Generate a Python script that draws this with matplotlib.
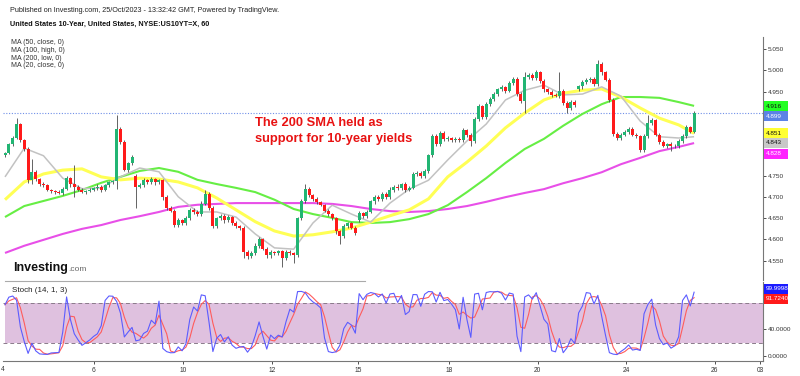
import numpy as np
import pandas as pd
import matplotlib
matplotlib.use('Agg')
import matplotlib.pyplot as plt
from matplotlib.patches import Rectangle
from matplotlib.lines import Line2D
from matplotlib.ticker import FixedLocator, FuncFormatter

plt.rcParams['font.family'] = ['Liberation Sans', 'DejaVu Sans']

# ---------------- data (2-hour candles) ----------------
close = [
    4.805, 4.825, 4.840, 4.872, 4.835, 4.815, 4.740, 4.760, 4.742, 4.732,
    4.728, 4.718, 4.715, 4.712, 4.710, 4.720, 4.745, 4.730, 4.725, 4.718,
    4.712, 4.715, 4.718, 4.722, 4.725, 4.718, 4.728, 4.735, 4.738, 4.862,
    4.830, 4.765, 4.780, 4.795, 4.725, 4.728, 4.740, 4.735, 4.742, 4.735,
    4.740, 4.700, 4.675, 4.668, 4.635, 4.645, 4.638, 4.650, 4.670, 4.665,
    4.660, 4.685, 4.708, 4.675, 4.632, 4.650, 4.655, 4.645, 4.652, 4.640,
    4.632, 4.628, 4.570, 4.560, 4.568, 4.585, 4.600, 4.578, 4.562, 4.570,
    4.568, 4.572, 4.555, 4.570, 4.568, 4.562, 4.650, 4.690, 4.720, 4.705,
    4.695, 4.688, 4.682, 4.668, 4.660, 4.650, 4.620, 4.608, 4.632, 4.638,
    4.628, 4.615, 4.662, 4.655, 4.665, 4.690, 4.700, 4.695, 4.708, 4.700,
    4.718, 4.725, 4.722, 4.730, 4.718, 4.722, 4.755, 4.758, 4.750, 4.762,
    4.800, 4.845, 4.825, 4.852, 4.838, 4.840, 4.835, 4.838, 4.835, 4.858,
    4.848, 4.832, 4.885, 4.915, 4.890, 4.920, 4.932, 4.945, 4.955, 4.960,
    4.952, 4.970, 4.980, 4.945, 4.928, 4.985, 4.988, 4.982, 4.995, 4.975,
    4.955, 4.948, 4.942, 4.940, 4.952, 4.922, 4.912, 4.925, 4.918, 4.962,
    4.972, 4.978, 4.980, 4.968, 5.015, 4.995, 4.978, 4.930, 4.850, 4.840,
    4.848, 4.855, 4.862, 4.848, 4.845, 4.812, 4.845, 4.875, 4.882, 4.848,
    4.830, 4.822, 4.825, 4.820, 4.822, 4.832, 4.845, 4.865, 4.855, 4.899,
]
# opens after session gaps (otherwise open = previous close)
open_override = {0: 4.800, 34: 4.750, 92: 4.645, 149: 4.955}
# wick lengths above / below body, in thousandths
wick_hi = [
    3, 4, 5, 15, 4, 3, 4, 30, 4, 3,
    3, 4, 2, 3, 4, 5, 5, 3, 45, 3,
    3, 2, 4, 3, 5, 3, 4, 3, 3, 33,
    5, 6, 4, 5, 4, 5, 6, 4, 5, 4,
    4, 3, 4, 3, 4, 5, 4, 5, 5, 4,
    4, 5, 8, 4, 3, 4, 5, 4, 6, 3,
    4, 3, 3, 4, 5, 6, 5, 3, 4, 4,
    3, 4, 3, 5, 4, 3, 4, 5, 10, 4,
    3, 5, 4, 3, 4, 3, 4, 3, 5, 4,
    4, 3, 5, 4, 5, 4, 6, 4, 5, 4,
    5, 4, 6, 4, 5, 4, 5, 4, 5, 4,
    3, 5, 4, 5, 4, 4, 3, 4, 4, 5,
    3, 4, 5, 6, 4, 5, 4, 5, 4, 5,
    4, 5, 5, 4, 3, 11, 5, 6, 5, 4,
    5, 4, 5, 4, 44, 4, 6, 5, 4, 4,
    5, 4, 5, 4, 10, 4, 3, 3, 4, 5,
    4, 5, 4, 5, 4, 3, 5, 20, 6, 4,
    4, 5, 4, 5, 4, 5, 4, 5, 4, 4,
]
wick_lo = [
    5, 4, 3, 3, 4, 5, 6, 10, 4, 5,
    4, 3, 5, 4, 3, 4, 3, 5, 25, 4,
    3, 4, 3, 3, 4, 5, 3, 4, 3, 18,
    5, 4, 6, 4, 50, 4, 5, 4, 5, 6,
    4, 6, 5, 4, 6, 5, 4, 5, 4, 5,
    5, 4, 4, 5, 6, 4, 5, 5, 4, 5,
    4, 5, 15, 6, 5, 4, 5, 4, 5, 5,
    4, 5, 20, 4, 5, 17, 4, 5, 4, 5,
    4, 5, 3, 4, 5, 4, 6, 18, 4, 5,
    4, 5, 4, 5, 4, 3, 5, 4, 5, 4,
    4, 5, 4, 5, 6, 4, 3, 5, 4, 5,
    4, 5, 5, 4, 5, 4, 5, 4, 5, 4,
    5, 12, 4, 5, 6, 4, 5, 4, 5, 4,
    5, 4, 4, 5, 4, 28, 5, 4, 5, 4,
    5, 4, 5, 4, 5, 4, 12, 5, 4, 4,
    5, 4, 5, 4, 4, 5, 4, 5, 5, 4,
    5, 4, 5, 4, 5, 5, 4, 4, 5, 4,
    5, 4, 5, 10, 4, 5, 4, 4, 4, 3,
]

# moving averages, sampled every 5th candle (plus the last one)
ma50_close = [4.694, 4.736, 4.755, 4.764, 4.767, 4.748, 4.741, 4.745, 4.743, 4.736,
              4.722, 4.698, 4.670, 4.642, 4.620, 4.608, 4.611, 4.618, 4.627, 4.641,
              4.656, 4.670, 4.696, 4.748, 4.783, 4.821, 4.864, 4.899, 4.930, 4.946,
              4.953, 4.956, 4.937, 4.911, 4.887, 4.871, 4.851]
ma100_high = [4.653, 4.679, 4.691, 4.703, 4.717, 4.734, 4.748, 4.762, 4.769, 4.760,
              4.741, 4.731, 4.722, 4.712, 4.694, 4.672, 4.660, 4.651, 4.641, 4.639,
              4.641, 4.648, 4.660, 4.681, 4.712, 4.745, 4.781, 4.814, 4.838, 4.869,
              4.897, 4.920, 4.937, 4.937, 4.935, 4.925, 4.916]
ma200_low = [4.568, 4.585, 4.599, 4.613, 4.625, 4.634, 4.646, 4.655, 4.665, 4.677,
             4.682, 4.684, 4.686, 4.686, 4.686, 4.686, 4.686, 4.684, 4.679, 4.672,
             4.667, 4.665, 4.667, 4.672, 4.679, 4.689, 4.700, 4.710, 4.719, 4.733,
             4.745, 4.759, 4.778, 4.793, 4.809, 4.819, 4.828]
ma20_close = [4.748, 4.816, 4.798, 4.745, 4.720, 4.722, 4.748, 4.769, 4.760, 4.701,
              4.665, 4.665, 4.653, 4.613, 4.580, 4.577, 4.639, 4.681, 4.660, 4.641,
              4.686, 4.719, 4.740, 4.788, 4.833, 4.873, 4.930, 4.953, 4.965, 4.942,
              4.944, 4.961, 4.939, 4.880, 4.843, 4.840, 4.843]

day_labels = ['6', '10', '12', '15', '18', '20', '24', '26', '03']
day_pos = [23.1, 46.2, 69.4, 91.7, 115.3, 138.4, 161.3, 184.4, 196.1]
price_ticks = [4.55, 4.60, 4.65, 4.70, 4.75, 4.80, 4.85, 4.90, 4.95, 5.00, 5.05]
price_hidden = [4.80, 4.85, 4.90]     # covered by the value boxes
stoch_ticks = [0, 40, 80]
stoch_hidden = [80]
last_price = 4.899

# ---------------- figure ----------------
W, H = 800, 376
fig = plt.figure(figsize=(W / 100, H / 100), dpi=100)
fig.patch.set_facecolor('white')


def fx(px):
    return px / W


def fy(py):
    return 1 - py / H


GREEN = '#22b573'
RED = '#ff1a1a'

c = np.array(close)
o = np.r_[np.nan, c[:-1]]
for k, v in open_override.items():
    o[k] = v
hi = np.maximum(o, c) + np.array(wick_hi) / 1000.0
lo = np.minimum(o, c) - np.array(wick_lo) / 1000.0
N = len(c)
idx = np.arange(N)

xl = (-0.52, 196.9)

# price panel
ax = fig.add_axes([fx(3), fy(280), fx(760), (280 - 37) / H])
ax.set_xlim(*xl)
ax.set_ylim(4.504, 5.079)
for s in ['top', 'left', 'bottom']:
    ax.spines[s].set_visible(False)
ax.spines['right'].set_color('#777777')
ax.spines['right'].set_linewidth(0.8)
ax.yaxis.tick_right()
ax.yaxis.set_major_locator(FixedLocator(price_ticks))
ax.yaxis.set_major_formatter(FuncFormatter(
    lambda v, p: '' if any(abs(v - h) < 1e-6 for h in price_hidden) else f'{v:.3f}'))
ax.tick_params(axis='y', labelsize=4.6, colors='#333333', length=2, width=0.6, pad=1.5)
ax.tick_params(axis='x', bottom=False, labelbottom=False)

ma_x = np.r_[np.arange(0, 176, 5), N - 1]
ax.plot(ma_x, ma200_low, color='#e84fe8', lw=1.5, zorder=2, solid_capstyle='butt')
ax.plot(ma_x, ma100_high, color='#66ee44', lw=1.5, zorder=2, solid_capstyle='butt')
ax.plot(ma_x, ma50_close, color='#ffff55', lw=2.2, zorder=2, solid_capstyle='butt')
ax.plot(ma_x, ma20_close, color='#c2c2c2', lw=1.1, zorder=2, solid_capstyle='butt')

ax.axhline(last_price, color='#6f8fe8', ls=(0, (1, 1.5)), lw=0.8, zorder=1)

up = c >= o
cols = np.where(up, GREEN, RED)
ax.vlines(idx, lo, hi, colors='#4a4a4a', linewidth=0.6, zorder=3)
body_h = np.maximum(np.abs(c - o), 0.0015)
ax.bar(idx, body_h, bottom=np.minimum(o, c), width=0.78, color=cols,
       linewidth=0, zorder=4)

# stochastic panel (14 hourly bars ~ 7 two-hour bars)
s_hi = pd.Series(hi).rolling(7, min_periods=1).max()
s_lo = pd.Series(lo).rolling(7, min_periods=1).min()
kline = 100 * (pd.Series(c) - s_lo) / (s_hi - s_lo)
dline = kline.rolling(3, min_periods=1).mean()

ax2 = fig.add_axes([fx(3), fy(361), fx(760), (361 - 282) / H])
ax2.set_xlim(*xl)
ax2.set_ylim(-7.5, 111)
for s in ['top', 'left']:
    ax2.spines[s].set_visible(False)
for s in ['right', 'bottom']:
    ax2.spines[s].set_color('#777777')
    ax2.spines[s].set_linewidth(0.8)
ax2.axhspan(20, 80, xmin=(2 / 760), color='#dfc1df', zorder=0, lw=0)
ax2.axhline(80, color='#8a7a8a', ls=(0, (4, 3)), lw=0.7, zorder=1)
ax2.axhline(20, color='#8a7a8a', ls=(0, (4, 3)), lw=0.7, zorder=1)
ax2.plot(idx, kline, color='#5c5cff', lw=0.8, zorder=3)
ax2.plot(idx, dline, color='#ff5c5c', lw=0.8, zorder=2)
ax2.yaxis.tick_right()
ax2.yaxis.set_major_locator(FixedLocator(stoch_ticks))
ax2.yaxis.set_major_formatter(FuncFormatter(
    lambda v, p: '' if v in stoch_hidden else f'{v:.4f}'))
ax2.tick_params(axis='y', labelsize=4.6, colors='#333333', length=2, width=0.6, pad=1.5)
ax2.set_xticks(day_pos)
ax2.set_xticklabels(day_labels)
ax2.tick_params(axis='x', labelsize=4.8, colors='#333333', length=2, width=0.6, pad=2)
fig.text(fx(2.5), fy(369.5), '4', fontsize=4.8, color='#333333', ha='center', va='center')

# right-side value boxes
def vbox(py, txt, bg, fg):
    fig.add_artist(Rectangle((fx(764), fy(py + 5)), fx(24), 10 / H,
                             facecolor=bg, edgecolor='none', zorder=10))
    fig.text(fx(766), fy(py), txt, fontsize=4.6, color=fg, va='center', ha='left', zorder=11)

vbox(106, '4.916', '#22ff22', '#111111')
vbox(116, '4.899', '#5b82e6', '#ffffff')
vbox(133, '4.851', '#ffff33', '#111111')
vbox(143, '4.843', '#c8c8c8', '#111111')
vbox(154, '4.828', '#ff22ff', '#ffffff')
vbox(289, '99.9998', '#1a1aff', '#ffffff')
vbox(299, '91.7240', '#ff1a1a', '#ffffff')

# texts
fig.text(fx(10), fy(10.7), 'Published on Investing.com, 25/Oct/2023 - 13:32:42 GMT, Powered by TradingView.',
         fontsize=5.2, color='#222222', va='center')
fig.text(fx(10), fy(24.3), 'United States 10-Year, United States, NYSE:US10YT=X, 60',
         fontsize=5.2, fontweight='bold', color='#111111', va='center')
for yy, t in zip([42.7, 50.4, 58.0, 65.6],
                 ['MA (50, close, 0)', 'MA (100, high, 0)', 'MA (200, low, 0)', 'MA (20, close, 0)']):
    fig.text(fx(11), fy(yy), t, fontsize=5, color='#333333', va='center')

fig.text(fx(255), fy(123), 'The 200 SMA held as', fontsize=9.3, fontweight='bold',
         color='#e81212', va='center')
fig.text(fx(255), fy(139), 'support for 10-year yields', fontsize=9.3, fontweight='bold',
         color='#e81212', va='center')

fig.text(fx(13), fy(271), 'Investing', fontsize=9, fontweight='bold', color='#111111', va='baseline')
fig.text(fx(68), fy(271), '.com', fontsize=6, color='#666666', va='baseline')
fig.add_artist(Line2D([fx(5), fx(365)], [fy(280.5), fy(280.5)], color='#aaaaaa', lw=0.8))
fig.text(fx(12), fy(290.5), 'Stoch (14, 1, 3)', fontsize=5.8, color='#222222', va='center')

fig.savefig('out.png', dpi=100, facecolor='white')
